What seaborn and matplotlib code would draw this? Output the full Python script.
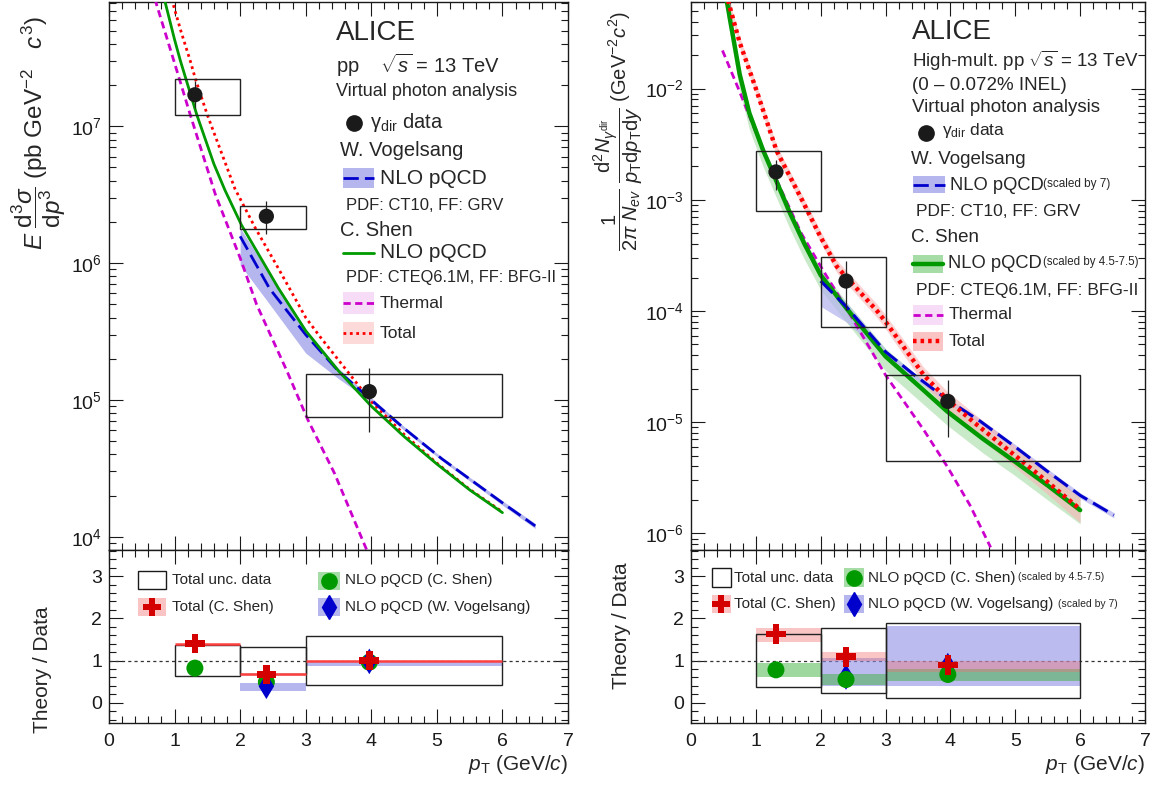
import numpy as np
import matplotlib
matplotlib.use("Agg")
import matplotlib.pyplot as plt
import seaborn as sns
from matplotlib.patches import Rectangle
from matplotlib.lines import Line2D
from matplotlib.ticker import MultipleLocator, LogLocator, NullFormatter

sns.set_theme(style="ticks")
plt.rcParams["font.family"] = ["Liberation Sans", "DejaVu Sans"]
plt.rcParams["mathtext.fontset"] = "custom"
plt.rcParams["mathtext.rm"] = "Liberation Sans"
plt.rcParams["mathtext.it"] = "Liberation Sans:italic"
plt.rcParams["mathtext.bf"] = "Liberation Sans:bold"

# ---- data: pp minimum bias (left) ----
bin_lo = np.array([1.0, 2.0, 3.0])
bin_hi = np.array([2.0, 3.0, 6.0])

pp_pt = [1.31, 2.40, 3.97]
pp_y = [1.70e7, 2.20e6, 1.15e5]
pp_err_lo = [1.37e7, 1.62e6, 5.86e4]
pp_err_hi = [2.13e7, 2.85e6, 1.70e5]
pp_box_lo = np.array([1.21e7, 1.77e6, 7.55e4])
pp_box_hi = np.array([2.20e7, 2.62e6, 1.55e5])

pp_shen_pt = [0.85, 1.0, 1.09, 1.34, 1.6, 1.77, 2.02, 2.58, 3.0, 3.5, 4.0, 4.5, 5.0, 5.5, 6.0]
pp_shen = [8.3e7, 4.3e7, 3.0e7, 1.21e7, 5.3e6, 3.4e6, 1.9e6, 6.6e5, 3.2e5, 1.63e5,
           9.0e4, 5.4e4, 3.4e4, 2.2e4, 1.5e4]

pp_vog_pt = [2.0, 2.45, 3.0, 3.5, 3.9, 4.5, 5.08, 6.0, 6.5]
pp_vog = [1.57e6, 6.5e5, 3.0e5, 1.62e5, 1.1e5, 6.2e4, 3.7e4, 1.77e4, 1.2e4]
pp_vog_lo = [9.7e5, 5.0e5, 2.2e5, 1.43e5, 1.05e5, 6.0e4, 3.6e4, 1.7e4, 1.15e4]
pp_vog_hi = [1.81e6, 8.3e5, 3.3e5, 1.70e5, 1.14e5, 6.4e4, 3.8e4, 1.83e4, 1.25e4]

pp_therm_pt = [0.70, 0.99, 1.24, 1.62, 2.0, 2.25, 2.72, 3.03, 3.44, 3.95]
pp_therm = [8.5e7, 3.0e7, 1.21e7, 3.2e6, 1.09e6, 5.0e5, 1.6e5, 7.2e4, 2.9e4, 7.6e3]

pp_tot_pt = [0.95, 1.1, 1.24, 1.32, 1.5, 1.7, 1.92, 2.23, 2.58, 3.0, 3.23, 3.69,
             4.0, 4.5, 5.0, 5.5, 6.0]
pp_tot = [8.7e7, 4.9e7, 3.0e7, 2.2e7, 1.21e7, 6.7e6, 3.5e6, 1.81e6, 9.2e5, 4.0e5,
          2.85e5, 1.5e5, 9.7e4, 5.6e4, 3.45e4, 2.22e4, 1.52e4]

# ratios, left
ppr_box_lo = np.array([0.64, 0.67, 0.42])
ppr_box_hi = np.array([1.36, 1.33, 1.59])
ppr_tot = [1.40, 0.67, 1.0]
ppr_shen = [0.82, 0.49, 0.96]
ppr_vog_pt = [2.4, 3.97]
ppr_vog = [0.39, 0.98]
ppr_vog_lo = np.array([0.27, 0.88])
ppr_vog_hi = np.array([0.47, 1.0])

# ---- data: high multiplicity (right) ----
hm_pt = [1.31, 2.39, 3.96]
hm_y = [1.78e-3, 1.86e-4, 1.54e-5]
hm_err_lo = [1.22e-3, 1.03e-4, 7.35e-6]
hm_err_hi = [2.30e-3, 2.79e-4, 2.40e-5]
hm_box_lo = np.array([7.9e-4, 7.2e-5, 4.45e-6])
hm_box_hi = np.array([2.75e-3, 3.05e-4, 2.65e-5])

hm_shen_pt = [0.55, 0.65, 0.75, 0.9, 1.11, 1.3, 1.53, 1.75, 2.0, 2.39, 3.0, 3.5,
              3.95, 4.5, 5.0, 5.5, 6.0]
hm_shen = [6.2e-2, 2.9e-2, 1.35e-2, 6.0e-3, 2.8e-3, 1.55e-3, 7.5e-4, 4.0e-4, 2.1e-4,
           1.07e-4, 3.9e-5, 2.15e-5, 1.25e-5, 7.1e-6, 4.4e-6, 2.7e-6, 1.62e-6]
hm_shen_lo = [4.5e-2, 2.1e-2, 9.7e-3, 4.3e-3, 2.0e-3, 1.1e-3, 5.4e-4, 2.9e-4, 1.55e-4,
              8.0e-5, 2.9e-5, 1.6e-5, 9.4e-6, 5.3e-6, 3.3e-6, 2.0e-6, 1.22e-6]
hm_shen_hi = [6.8e-2, 3.2e-2, 1.5e-2, 6.7e-3, 3.1e-3, 1.72e-3, 8.4e-4, 4.5e-4, 2.4e-4,
              1.22e-4, 4.6e-5, 2.6e-5, 1.55e-5, 9.0e-6, 5.6e-6, 3.5e-6, 2.15e-6]

hm_vog_pt = [2.0, 2.39, 3.0, 3.43, 3.95, 4.46, 5.0, 5.5, 6.0, 6.52]
hm_vog = [1.86e-4, 1.1e-4, 4.3e-5, 2.7e-5, 1.6e-5, 1.02e-5, 6.0e-6, 3.6e-6, 2.2e-6, 1.46e-6]
hm_vog_lo = [1.1e-4, 8.0e-5, 3.9e-5, 2.5e-5, 1.5e-5, 9.6e-6, 5.6e-6, 3.4e-6, 2.07e-6, 1.38e-6]
hm_vog_hi = [2.1e-4, 1.2e-4, 4.5e-5, 2.8e-5, 1.67e-5, 1.07e-5, 6.3e-6, 3.8e-6, 2.32e-6, 1.54e-6]

hm_therm_pt = [0.485, 0.73, 1.06, 1.37, 1.7, 2.04, 2.4, 3.0, 3.59, 3.95, 4.3, 4.62]
hm_therm = [2.2e-2, 1.0e-2, 3.3e-3, 1.3e-3, 5.0e-4, 2.3e-4, 1.05e-4, 2.65e-5, 8.5e-6,
            4.0e-6, 1.8e-6, 7.5e-7]

hm_tot_pt = [0.57, 0.75, 1.0, 1.32, 1.71, 2.0, 2.25, 2.87, 3.0, 3.59, 3.95, 4.36, 5.0, 5.5, 6.0]
hm_tot = [6.2e-2, 2.6e-2, 1.0e-2, 2.75e-3, 1.0e-3, 4.6e-4, 2.5e-4, 1.0e-4, 8.0e-5, 2.65e-5,
          1.6e-5, 1.0e-5, 5.0e-6, 2.9e-6, 1.65e-6]
hm_tot_lo = [5.6e-2, 2.35e-2, 9.0e-3, 2.45e-3, 8.9e-4, 4.1e-4, 2.2e-4, 8.7e-5, 6.9e-5, 2.2e-5,
             1.3e-5, 8.0e-6, 3.9e-6, 2.25e-6, 1.25e-6]
hm_tot_hi = [6.9e-2, 2.9e-2, 1.12e-2, 3.08e-3, 1.12e-3, 5.2e-4, 2.85e-4, 1.15e-4, 9.2e-5, 3.1e-5,
             1.9e-5, 1.2e-5, 6.1e-6, 3.6e-6, 2.1e-6]

# ratios, right
hmr_box_lo = np.array([0.37, 0.24, 0.11])
hmr_box_hi = np.array([1.64, 1.76, 1.89])
hmr_tot = [1.63, 1.09, 0.89]
hmr_tot_lo = np.array([1.43, 1.0, 0.72])
hmr_tot_hi = np.array([1.76, 1.2, 1.0])
hmr_shen = [0.78, 0.55, 0.67]
hmr_shen_lo = np.array([0.61, 0.41, 0.51])
hmr_shen_hi = np.array([0.94, 0.67, 0.80])
hmr_vog_pt = [2.39, 3.96]
hmr_vog = [0.61, 0.88]
hmr_vog_lo = np.array([0.39, 0.39])
hmr_vog_hi = np.array([1.05, 1.82])

# ---- colours ----
C_GREEN = "#009a00"
C_BLUE = "#0000cc"
C_RED = "#ff0000"
C_MAG = "#cc00cc"
C_CROSS = "#d40000"
F_BLUE = "#b6b6ee"
F_GREEN = "#a6dca6"
F_PINK = "#f8b4b4"

W, H = 1158, 787
fig = plt.figure(figsize=(W / 100, H / 100), dpi=100)


def axes_px(x0, y0, x1, y1):
    return fig.add_axes([x0 / W, 1 - y1 / H, (x1 - x0) / W, (y1 - y0) / H])


def ftext(X, Y, s, size, ha="left", **kw):
    fig.text(X / W, 1 - Y / H, s, fontsize=size, ha=ha, va="center", **kw)


def fline(x0, x1, y, **kw):
    fig.add_artist(Line2D([x0 / W, x1 / W], [1 - y / H, 1 - y / H],
                          transform=fig.transFigure, **kw))


def fbox(x0, y0, x1, y1, **kw):
    fig.add_artist(Rectangle((x0 / W, 1 - y1 / H), (x1 - x0) / W, (y1 - y0) / H,
                             transform=fig.transFigure, **kw))


def fmark(X, Y, **kw):
    fig.add_artist(Line2D([X / W], [1 - Y / H], transform=fig.transFigure,
                          linestyle="none", **kw))


def style(ax, log=False, xlabels=True):
    ax.set_xlim(0, 7)
    ax.xaxis.set_major_locator(MultipleLocator(1))
    ax.xaxis.set_minor_locator(MultipleLocator(0.2))
    if log:
        ax.set_yscale("log")
        ax.yaxis.set_major_locator(LogLocator(base=10, numticks=20))
        ax.yaxis.set_minor_locator(LogLocator(base=10, subs=np.arange(2, 10), numticks=40))
        ax.yaxis.set_minor_formatter(NullFormatter())
    else:
        ax.yaxis.set_major_locator(MultipleLocator(1))
        ax.yaxis.set_minor_locator(MultipleLocator(0.2))
    ax.tick_params(which="both", direction="in", top=True, right=True, width=0.8,
                   colors="k", labelsize=14)
    ax.tick_params(which="major", length=10)
    ax.tick_params(which="minor", length=5)
    ax.tick_params(axis="y", pad=5)
    ax.tick_params(axis="x", pad=7)
    if not xlabels:
        ax.tick_params(labelbottom=False)
    for s in ax.spines.values():
        s.set_linewidth(1.0)
        s.set_color("k")
    ax.set_xlabel("")
    ax.set_ylabel("")


def spectrum(ax, pt, y, elo, ehi, blo, bhi):
    ax.bar(bin_lo, bhi - blo, bottom=blo, width=bin_hi - bin_lo, align="edge",
           fill=False, edgecolor="#222222", linewidth=1.0, zorder=5)
    ax.vlines(pt, elo, ehi, color="#222222", lw=0.9, zorder=6)
    sns.scatterplot(x=pt, y=y, ax=ax, color="k", s=120, marker="o",
                    edgecolor="none", zorder=7, legend=False)


def curve(ax, x, y, color, lw, ls):
    sns.lineplot(x=x, y=y, ax=ax, color=color, lw=lw, linestyle=ls,
                 sort=False, estimator=None, zorder=4, legend=False)


# ================= left spectrum =================
axL = axes_px(109, 2, 568, 550)
style(axL, log=True, xlabels=False)
axL.fill_between(pp_vog_pt, pp_vog_lo, pp_vog_hi, color=F_BLUE, lw=0, zorder=2)
curve(axL, pp_therm_pt, pp_therm, C_MAG, 2.0, (0, (2.6, 1.6)))
curve(axL, pp_tot_pt, pp_tot, C_RED, 2.0, (0, (1.0, 1.3)))
curve(axL, pp_vog_pt, pp_vog, C_BLUE, 2.0, (0, (5.5, 2.2)))
curve(axL, pp_shen_pt, pp_shen, C_GREEN, 2.0, "-")
spectrum(axL, pp_pt, pp_y, pp_err_lo, pp_err_hi, pp_box_lo, pp_box_hi)
axL.set_ylim(8.0e3, 8.1e7)
axL.set_xlim(0, 7)

# ================= right spectrum =================
axR = axes_px(691, 2, 1145, 550)
style(axR, log=True, xlabels=False)
axR.fill_between(hm_shen_pt, hm_shen_lo, hm_shen_hi, color=F_GREEN, alpha=0.6, lw=0, zorder=2)
axR.fill_between(hm_vog_pt, hm_vog_lo, hm_vog_hi, color=F_BLUE, alpha=0.75, lw=0, zorder=2)
axR.fill_between(hm_tot_pt, hm_tot_lo, hm_tot_hi, color=F_PINK, alpha=0.6, lw=0, zorder=2)
curve(axR, hm_therm_pt, hm_therm, C_MAG, 2.0, (0, (2.6, 1.6)))
curve(axR, hm_shen_pt, hm_shen, C_GREEN, 3.2, "-")
curve(axR, hm_vog_pt, hm_vog, C_BLUE, 2.2, (0, (5.5, 2.2)))
curve(axR, hm_tot_pt, hm_tot, C_RED, 3.2, (0, (0.8, 0.9)))
spectrum(axR, hm_pt, hm_y, hm_err_lo, hm_err_hi, hm_box_lo, hm_box_hi)
axR.set_ylim(7.1e-7, 6.0e-2)
axR.set_xlim(0, 7)

# ================= ratio panels =================
rL = axes_px(109, 550, 568, 723)
style(rL)
rL.set_ylim(-0.48, 3.62)
rL.axhline(1, color="#333333", lw=0.9, ls=(0, (2.5, 2.5)), zorder=1)
rL.bar(bin_lo[1:], ppr_vog_hi - ppr_vog_lo, bottom=ppr_vog_lo, width=(bin_hi - bin_lo)[1:],
       align="edge", color=F_BLUE, lw=0, zorder=2)
rL.bar(bin_lo, ppr_box_hi - ppr_box_lo, bottom=ppr_box_lo, width=bin_hi - bin_lo,
       align="edge", fill=False, edgecolor="#222222", lw=1.0, zorder=3)
rL.hlines(ppr_tot, bin_lo, bin_hi, color="#ff4040", lw=1.8, zorder=3)
sns.scatterplot(x=pp_pt, y=ppr_shen, ax=rL, color=C_GREEN, s=150, marker="o",
                edgecolor="none", zorder=5, legend=False)
sns.scatterplot(x=ppr_vog_pt, y=ppr_vog, ax=rL, color=C_BLUE, s=170, marker="d",
                edgecolor="none", zorder=6, legend=False)
sns.scatterplot(x=pp_pt, y=ppr_tot, ax=rL, color=C_CROSS, s=200, marker="P",
                edgecolor="none", zorder=7, legend=False)
rL.set_xlim(0, 7)

rR = axes_px(691, 550, 1145, 723)
style(rR)
rR.set_ylim(-0.48, 3.62)
rR.axhline(1, color="#333333", lw=0.9, ls=(0, (2.5, 2.5)), zorder=1)
rR.bar(bin_lo[1:], hmr_vog_hi - hmr_vog_lo, bottom=hmr_vog_lo, width=(bin_hi - bin_lo)[1:],
       align="edge", color="#8f8fe6", alpha=0.6, lw=0, zorder=2)
rR.bar(bin_lo, hmr_shen_hi - hmr_shen_lo, bottom=hmr_shen_lo, width=bin_hi - bin_lo,
       align="edge", color="#3fb33f", alpha=0.5, lw=0, zorder=2)
rR.bar(bin_lo, hmr_tot_hi - hmr_tot_lo, bottom=hmr_tot_lo, width=bin_hi - bin_lo,
       align="edge", color="#f07070", alpha=0.4, lw=0, zorder=2)
rR.bar(bin_lo, hmr_box_hi - hmr_box_lo, bottom=hmr_box_lo, width=bin_hi - bin_lo,
       align="edge", fill=False, edgecolor="#222222", lw=1.0, zorder=3)
sns.scatterplot(x=hmr_vog_pt, y=hmr_vog, ax=rR, color=C_BLUE, s=170, marker="d",
                edgecolor="none", zorder=5, legend=False)
sns.scatterplot(x=hm_pt, y=hmr_shen, ax=rR, color=C_GREEN, s=150, marker="o",
                edgecolor="none", zorder=6, legend=False)
sns.scatterplot(x=hm_pt, y=hmr_tot, ax=rR, color=C_CROSS, s=200, marker="P",
                edgecolor="none", zorder=7, legend=False)
rR.set_xlim(0, 7)

# ================= axis titles =================
ftext(39, 133, r"$E\ \dfrac{\mathrm{d}^{3}\sigma}{\mathrm{d}p^{3}}$ (pb GeV$^{-2}$   $c^{3}$)",
      17.5, ha="center", rotation=90)
ftext(618, 131, r"$\dfrac{1}{2\pi\ N_{ev}}\ \dfrac{\mathrm{d}^{2}N_{\gamma^{\mathrm{dir}}}}"
      r"{p_{\mathrm{T}}\mathrm{d}p_{\mathrm{T}}\mathrm{d}y}$ (GeV$^{-2}c^{2}$)",
      14.5, ha="center", rotation=90)
ftext(43, 670, "Theory / Data", 15, ha="center", rotation=90)
ftext(622, 626, "Theory / Data", 15, ha="center", rotation=90)
ftext(568, 765, r"$p_{\mathrm{T}}$ (GeV/$c$)", 15, ha="right")
ftext(1145, 765, r"$p_{\mathrm{T}}$ (GeV/$c$)", 15, ha="right")

# ================= left legend =================
ftext(336, 33, "ALICE", 20)
ftext(336, 65, r"pp    $\sqrt{s}$ = 13 TeV", 14.5)
ftext(336, 91, "Virtual photon analysis", 13)
fmark(354, 123, marker="o", color="k", markersize=11)
ftext(370, 122, "\u03b3$_{\\mathrm{dir}}$ data", 14.5)
ftext(340, 151, "W. Vogelsang", 14.5)
fbox(343, 168, 374, 188, color=F_BLUE, lw=0)
fline(343, 374, 178, color=C_BLUE, lw=2.0, ls=(0, (5.5, 2.2)))
ftext(380, 178, "NLO pQCD", 15)
ftext(346, 206, "PDF: CT10, FF: GRV", 12)
ftext(340, 230, "C. Shen", 14.5)
fline(343, 374, 253, color=C_GREEN, lw=2.0)
ftext(380, 253, "NLO pQCD", 15)
ftext(346, 277, "PDF: CTEQ6.1M, FF: BFG-II", 11.8)
fbox(343, 292, 374, 314, color="#f6dcf6", lw=0)
fline(343, 374, 303, color=C_MAG, lw=2.0, ls=(0, (2.6, 1.6)))
ftext(380, 304, "Thermal", 12.5)
fbox(343, 322, 374, 344, color="#fddada", lw=0)
fline(343, 374, 333, color=C_RED, lw=2.0, ls=(0, (1.0, 1.3)))
ftext(380, 334, "Total", 12.5)

# ================= right legend =================
ftext(912, 32, "ALICE", 20)
ftext(912, 61, r"High-mult. pp $\sqrt{s}$ = 13 TeV", 13.5)
ftext(912, 85, "(0 \u2013 0.072% INEL)", 13.5)
ftext(912, 108, "Virtual photon analysis", 13.5)
fmark(926, 133, marker="o", color="k", markersize=11)
ftext(942, 131, "\u03b3$_{\\mathrm{dir}}$ data", 12.5)
ftext(911, 160, "W. Vogelsang", 13.5)
fbox(913, 176, 945, 193, color=F_BLUE, lw=0)
fline(913, 945, 185, color=C_BLUE, lw=2.0, ls=(0, (5.5, 2.2)))
ftext(950, 185, "NLO pQCD", 13.2)
ftext(1043, 184, "(scaled by 7)", 8.5)
ftext(916, 212, "PDF: CT10, FF: GRV", 12.5)
ftext(911, 238, "C. Shen", 13.5)
fbox(913, 255, 943, 273, color=F_GREEN, lw=0)
fline(913, 943, 264, color=C_GREEN, lw=3.2)
ftext(948, 263, "NLO pQCD", 13.2)
ftext(1043, 262, "(scaled by 4.5-7.5)", 8.3)
ftext(916, 291, "PDF: CTEQ6.1M, FF: BFG-II", 12.5)
fbox(913, 305, 943, 325, color="#f6dcf6", lw=0)
fline(913, 943, 315, color=C_MAG, lw=2.0, ls=(0, (2.6, 1.6)))
ftext(949, 315, "Thermal", 12.5)
fbox(913, 332, 943, 351, color="#fbc4c4", lw=0)
fline(913, 943, 341, color=C_RED, lw=3.2, ls=(0, (0.8, 0.9)))
ftext(949, 341, "Total", 12.5)

# ================= ratio legends =================
fbox(138, 571, 166, 589, fill=False, edgecolor="k", lw=1.0)
ftext(172, 580, "Total unc. data", 11)
fbox(138, 598, 166, 616, color="#fbc4c4", lw=0)
fmark(152, 607, marker="P", color=C_CROSS, markersize=13, markeredgewidth=0)
ftext(172, 607, "Total (C. Shen)", 11)
fbox(318, 572, 340, 590, color="#a6dca6", lw=0)
fmark(329, 581, marker="o", color=C_GREEN, markersize=11)
ftext(345, 580, "NLO pQCD (C. Shen)", 11)
fbox(318, 598, 340, 616, color=F_BLUE, lw=0)
fmark(329, 607, marker="d", color=C_BLUE, markersize=12)
ftext(345, 607, "NLO pQCD (W. Vogelsang)", 11)

fbox(712, 568, 731, 587, fill=False, edgecolor="k", lw=1.0)
ftext(734, 578, "Total unc. data", 11)
fbox(712, 595, 731, 613, color="#fbc4c4", lw=0)
fmark(721, 604, marker="P", color=C_CROSS, markersize=13, markeredgewidth=0)
ftext(734, 604, "Total (C. Shen)", 11)
fbox(844, 568, 864, 587, color="#a6dca6", lw=0)
fmark(854, 578, marker="o", color=C_GREEN, markersize=11)
ftext(868, 578, "NLO pQCD (C. Shen)", 11)
ftext(1018, 577, "(scaled by 4.5-7.5)", 7.5)
fbox(844, 595, 864, 613, color=F_BLUE, lw=0)
fmark(854, 604, marker="d", color=C_BLUE, markersize=12)
ftext(868, 604, "NLO pQCD (W. Vogelsang)", 11)
ftext(1058, 604, "(scaled by 7)", 7.5)

fig.savefig("out.png", dpi=100)
